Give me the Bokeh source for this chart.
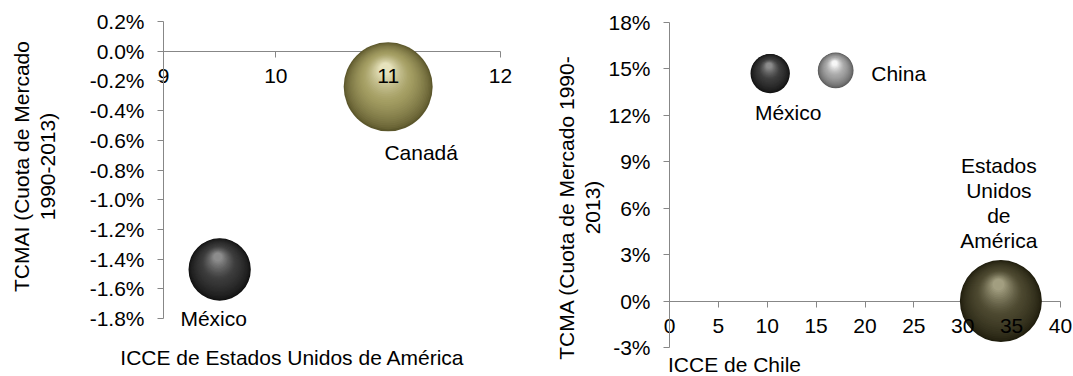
import numpy as np
from bokeh.plotting import figure
from bokeh.layouts import row
from bokeh.models import (ColumnDataSource, LabelSet, Label, LinearAxis,
                          FixedTicker, PrintfTickFormatter, Range1d)
from bokeh.core.properties import value
from bokeh.embed import file_html
from bokeh.resources import INLINE

# ---- Mercado: Estados Unidos de América ----
paises_eua = ["México", "Canadá"]
icce_eua = [9.5, 11.0]            # ICCE
tcmai_eua = [-1.47, -0.24]        # TCMAI, %
peso_eua = [49, 100]              # tamaño relativo de burbuja (área)
ticks_x_eua = [9, 10, 11, 12]
ticks_y_eua = [0.2, 0.0, -0.2, -0.4, -0.6, -0.8, -1.0, -1.2, -1.4, -1.6, -1.8]

# ---- Mercado: Chile ----
paises_chile = ["México", "China", "Estados\nUnidos\nde\nAmérica"]
icce_chile = [10.3, 17.0, 33.9]   # ICCE
tcma_chile = [14.7, 14.9, 0.0]    # TCMA, %
peso_chile = [23, 19, 100]        # tamaño relativo de burbuja (área)
ticks_x_chile = [0, 5, 10, 15, 20, 25, 30, 35, 40]
ticks_y_chile = [18, 15, 12, 9, 6, 3, 0, -3]

FONT = "Liberation Sans"
FS = "21px"
AXIS_GRAY = "#878787"
H = 376
LINE_STEP = 25  # px between lines of a wrapped label

# sphere palettes: (edge, body, highlight)
DARK = ("#121212", "#3b3b3b", "#8c8c8c")
OLIVE = ("#5c572c", "#a39d62", "#e6e2bc")
LIGHT = ("#5a5a5a", "#a4a4a4", "#f6f6f6")
DARK_OLIVE = ("#201e0e", "#4c4830", "#a29e80")


def hex2rgb(h):
    h = h.lstrip("#")
    return np.array([int(h[i:i + 2], 16) for i in (0, 2, 4)], dtype=float)


def rgb2hex(c):
    c = np.clip(np.round(c), 0, 255).astype(int)
    return "#%02x%02x%02x" % tuple(c)


class Panel:
    """Figure whose canvas is all frame; the plot box (in px) holds the data extent."""

    def __init__(self, width, box, xr, yr):
        left, right, top, bottom = box
        self.ppx = (right - left) / (xr[1] - xr[0])
        self.ppy = (bottom - top) / (yr[1] - yr[0])
        x0 = xr[0] - left / self.ppx
        x1 = xr[1] + (width - right) / self.ppx
        y1 = yr[1] + top / self.ppy
        y0 = yr[0] - (H - bottom) / self.ppy
        self.x0, self.y1 = x0, y1
        self.xr, self.yr = xr, yr
        p = figure(width=width, height=H, output_backend="svg", toolbar_location=None,
                   x_range=Range1d(x0, x1), y_range=Range1d(y0, y1),
                   min_border=0)
        p.outline_line_color = None
        p.grid.visible = False
        p.background_fill_color = "white"
        p.border_fill_color = "white"
        self.p = p

    def to_data(self, px, py):
        return self.x0 + px / self.ppx, self.y1 - py / self.ppy


def style_axis(ax, ticks, fmt, bounds):
    ax.ticker = FixedTicker(ticks=ticks)
    ax.formatter = PrintfTickFormatter(format=fmt)
    ax.bounds = bounds
    ax.axis_line_color = AXIS_GRAY
    ax.major_tick_line_color = AXIS_GRAY
    ax.major_tick_out = 6
    ax.major_tick_in = 0
    ax.minor_tick_line_color = None
    ax.major_label_text_font = FONT
    ax.major_label_text_font_size = FS
    ax.major_label_text_color = "#000000"


def setup_axes(pn, xticks, xfmt, yticks, yfmt):
    p = pn.p
    # vertical axis at the left edge of the data box
    ya = p.yaxis[0]
    style_axis(ya, yticks, yfmt, pn.yr)
    ya.fixed_location = pn.xr[0]
    ya.major_label_standoff = 13
    # horizontal axis line crossing at zero, drawn beneath the bubbles
    xa = p.xaxis[0]
    style_axis(xa, xticks, xfmt, pn.xr)
    xa.fixed_location = 0
    xa.level = "underlay"
    xa.major_label_text_alpha = 0
    xa.major_label_standoff = 12
    # its tick labels, drawn above the bubbles
    lab = LinearAxis(fixed_location=0)
    style_axis(lab, xticks, xfmt, pn.xr)
    lab.axis_line_color = None
    lab.major_tick_line_color = None
    lab.major_label_standoff = 12
    p.add_layout(lab, "below")


def spheres(pn, xs, ys, sizes, palettes, rmax, n=30):
    smax = max(sizes)
    data = dict(x=[], y=[], d=[], c=[])
    for x, y, s, pal in zip(xs, ys, sizes, palettes):
        r = rmax * np.sqrt(s / smax)
        e, b, h = (hex2rgb(v) for v in pal)
        for k in range(n):
            t = k / (n - 1)
            rr = r * (1 - 0.86 * t)
            dx = -0.06 * r * t
            dy = 0.40 * r * t
            if t < 0.5:
                col = e + (b - e) * (t / 0.5) ** 0.7
            else:
                col = b + (h - b) * ((t - 0.5) / 0.5) ** 1.3
            data["x"].append(x + dx / pn.ppx)
            data["y"].append(y + dy / pn.ppy)
            data["d"].append(2 * rr)
            data["c"].append(rgb2hex(col))
    pn.p.scatter("x", "y", size="d", fill_color="c", line_color=None,
                 marker="circle", source=ColumnDataSource(data))


def point_labels(pn, xs, ys, names, ox, oy):
    # one row per text line so every line is centred on its own
    rows = dict(x=[], y=[], t=[], ox=[], oy=[])
    for x, y, name, dx, dy in zip(xs, ys, names, ox, oy):
        lines = name.split("\n")
        n = len(lines)
        for i, ln in enumerate(lines):
            rows["x"].append(x)
            rows["y"].append(y)
            rows["t"].append(ln)
            rows["ox"].append(dx)
            rows["oy"].append(dy + ((n - 1) / 2 - i) * LINE_STEP)
    pn.p.add_layout(LabelSet(x="x", y="y", text="t", source=ColumnDataSource(rows),
                             x_offset="ox", y_offset="oy",
                             text_font=value(FONT), text_font_size=value(FS),
                             text_color="#000000", text_align="center",
                             text_baseline="middle"))


def title(pn, px, py, text, angle=0.0):
    x, y = pn.to_data(px, py)
    pn.p.add_layout(Label(x=x, y=y, text=text, angle=angle, text_font=FONT,
                          text_font_size=FS, text_color="#000000",
                          text_align="center", text_baseline="middle"))


# ================= left chart =================
W1 = 530
pa = Panel(W1, (163, 500, 21, 318),
           (ticks_x_eua[0], ticks_x_eua[-1]), (ticks_y_eua[-1], ticks_y_eua[0]))
setup_axes(pa, ticks_x_eua, "%d", ticks_y_eua, "%.1f%%")
spheres(pa, icce_eua, tcmai_eua, peso_eua, [DARK, OLIVE], 44.5)
point_labels(pa, icce_eua, tcmai_eua, paises_eua, [-6, 33], [-49, -66])
title(pa, 21, 166, "TCMAI (Cuota de Mercado", np.pi / 2)
title(pa, 47, 166, "1990-2013)", np.pi / 2)
title(pa, 292, 357, "ICCE de Estados Unidos de América")

# ================= right chart =================
W2 = 1073 - W1
pb = Panel(W2, (139, 530, 22, 347),
           (ticks_x_chile[0], ticks_x_chile[-1]), (ticks_y_chile[-1], ticks_y_chile[0]))
setup_axes(pb, ticks_x_chile, "%d", ticks_y_chile, "%d%%")
spheres(pb, icce_chile, tcma_chile, peso_chile, [DARK, LIGHT, DARK_OLIVE], 41)
point_labels(pb, icce_chile, tcma_chile, paises_chile, [18, 63, -2], [-39, -3, 98])
title(pb, 36, 207, "TCMA (Cuota de Mercado 1990-", np.pi / 2)
title(pb, 62, 207, "2013)", np.pi / 2)
title(pb, 204, 364, "ICCE de Chile")

layout = row(pa.p, pb.p)
open("out.html", "w").write(file_html(layout, INLINE))
